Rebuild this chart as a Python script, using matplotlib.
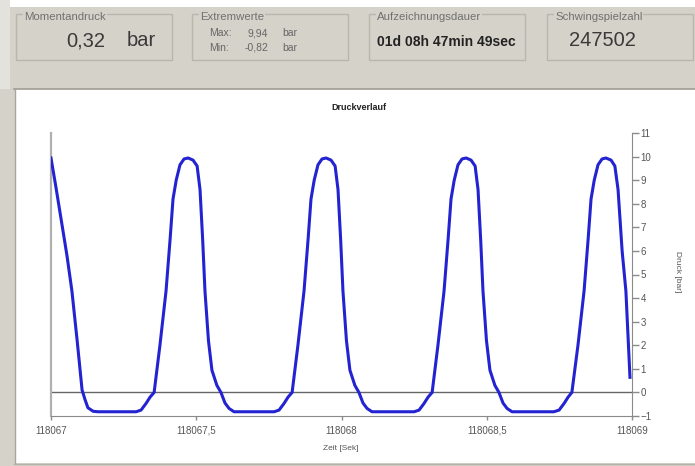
import matplotlib
matplotlib.use("Agg")
import matplotlib.pyplot as plt
from matplotlib.patches import Rectangle
from matplotlib.lines import Line2D

plt.rcParams["font.family"] = ["Liberation Sans", "DejaVu Sans"]

W, H = 695, 466

# ── data ─────────────────────────────────────────────────────────────────────
t_offset = [  # seconds after 118067
    0.000, 0.017, 0.038, 0.055, 0.072, 0.090, 0.107, 0.117, 0.127, 0.145, 0.162,
    0.293, 0.310, 0.327, 0.341, 0.355, 0.375, 0.396, 0.410, 0.420, 0.431, 0.444, 0.458,
    0.472, 0.489, 0.503, 0.513, 0.522, 0.530, 0.542, 0.554, 0.571, 0.585, 0.599, 0.613, 0.630,
    0.768, 0.785, 0.802, 0.816, 0.830, 0.850, 0.871, 0.885, 0.895, 0.906, 0.919, 0.933,
    0.947, 0.964, 0.978, 0.988, 0.997, 1.005, 1.017, 1.029, 1.046, 1.060, 1.074, 1.088, 1.105,
    1.250, 1.267, 1.284, 1.298, 1.312, 1.332, 1.353, 1.367, 1.377, 1.388, 1.401, 1.415,
    1.429, 1.446, 1.460, 1.470, 1.479, 1.487, 1.499, 1.511, 1.528, 1.542, 1.556, 1.570, 1.587,
    1.731, 1.749, 1.766, 1.780, 1.793, 1.814, 1.835, 1.849, 1.859, 1.870, 1.883, 1.897,
    1.910, 1.928, 1.941, 1.952, 1.966, 1.979, 1.993,
]
p_bar = [
    9.94, 8.7, 7.1, 5.8, 4.3, 2.2, 0.1, -0.3, -0.65, -0.8, -0.82,
    -0.82, -0.75, -0.47, -0.2, 0.0, 2.0, 4.3, 6.5, 8.2, 9.0, 9.65, 9.9,
    9.94, 9.85, 9.6, 8.6, 6.5, 4.3, 2.2, 0.94, 0.3, 0.0, -0.45, -0.68, -0.82,
    -0.82, -0.75, -0.47, -0.2, 0.0, 2.0, 4.3, 6.5, 8.2, 9.0, 9.65, 9.9,
    9.94, 9.85, 9.6, 8.6, 6.5, 4.3, 2.2, 0.94, 0.3, 0.0, -0.45, -0.68, -0.82,
    -0.82, -0.75, -0.47, -0.2, 0.0, 2.0, 4.3, 6.5, 8.2, 9.0, 9.65, 9.9,
    9.94, 9.85, 9.6, 8.6, 6.5, 4.3, 2.2, 0.94, 0.3, 0.0, -0.45, -0.68, -0.82,
    -0.82, -0.75, -0.47, -0.2, 0.0, 2.0, 4.3, 6.5, 8.2, 9.0, 9.65, 9.9,
    9.94, 9.85, 9.6, 8.6, 6.0, 4.3, 0.64,
]
T0 = 118067
t_sec = [T0 + v for v in t_offset]

x_ticks = [118067, 118067.5, 118068, 118068.5, 118069]
x_labels = ["118067", "118067,5", "118068", "118068,5", "118069"]
y_ticks = list(range(-1, 12))

moment = "0,32"
ext_max, ext_min = "9,94", "-0,82"
duration = "01d 08h 47min 49sec"
cycles = "247502"

GREY = "#d5d2ca"
BORDER = "#b9b6ae"
LABEL = "#666666"


def fx(px):
    return px / W


def fy(py):
    return 1 - py / H


def rect(x0, y0, x1, y1, **kw):
    fig.add_artist(Rectangle((fx(x0), fy(y1)), fx(x1) - fx(x0), fy(y0) - fy(y1),
                             transform=fig.transFigure, zorder=0, **kw))


def hline(x0, x1, y, **kw):
    fig.add_artist(Line2D([fx(x0), fx(x1)], [fy(y), fy(y)],
                          transform=fig.transFigure, zorder=0.5, **kw))


fig = plt.figure(figsize=(W / 100, H / 100), dpi=100, facecolor=GREY)

# ── window chrome ────────────────────────────────────────────────────────────
rect(0, 0, W, 7, facecolor="white", edgecolor="none")
rect(0, 0, 10, 89, facecolor="#e4e2dd", edgecolor="none")
rect(15, 89, W, 463, facecolor="white", edgecolor="none")
hline(14, W, 88.5, color="#9f9c95", lw=1.2)
fig.add_artist(Line2D([fx(14.5), fx(14.5)], [fy(89), fy(463)],
                      transform=fig.transFigure, color="#a9a69f", lw=1, zorder=0.5))
hline(14, W, 463.5, color="#b5b2ab", lw=1)

# ── group boxes ──────────────────────────────────────────────────────────────
boxes = [
    (16, 172, "Momentandruck"),
    (192, 348, "Extremwerte"),
    (369, 525, "Aufzeichnungsdauer"),
    (547, 693, "Schwingspielzahl"),
]
for x0, x1, title in boxes:
    rect(x0, 14, x1, 60, facecolor="none", edgecolor=BORDER, lw=1)
    fig.text(fx(x0 + 8), fy(16.5), title, fontsize=8.2, color="#707070",
             ha="left", va="center",
             bbox=dict(facecolor=GREY, edgecolor="none", pad=0.6))

fig.text(fx(105), fy(41), moment, fontsize=14.5, color="#3a3a3a",
         ha="right", va="center")
fig.text(fx(127), fy(41), "bar", fontsize=14.5, color="#3a3a3a",
         ha="left", va="center")

fig.text(fx(209), fy(33), "Max:", fontsize=7.5, color=LABEL, ha="left", va="center")
fig.text(fx(209), fy(48), "Min:", fontsize=7.5, color=LABEL, ha="left", va="center")
fig.text(fx(268), fy(33), ext_max, fontsize=7.5, color=LABEL, ha="right", va="center")
fig.text(fx(268), fy(48), ext_min, fontsize=7.5, color=LABEL, ha="right", va="center")
fig.text(fx(282), fy(33), "bar", fontsize=7.5, color=LABEL, ha="left", va="center")
fig.text(fx(282), fy(48), "bar", fontsize=7.5, color=LABEL, ha="left", va="center")

fig.text(fx(377), fy(42), duration, fontsize=10, fontweight="bold",
         color="#222222", ha="left", va="center")
fig.text(fx(569), fy(40), cycles, fontsize=14.5, color="#3a3a3a",
         ha="left", va="center")

# ── pressure chart ───────────────────────────────────────────────────────────
ax = fig.add_axes([fx(51), fy(416), fx(632) - fx(51), fy(133) - fy(416)])
ax.set_zorder(5)
ax.set_facecolor("none")
ax.plot(t_sec, p_bar, color="#2323d2", lw=2.2, solid_joinstyle="round",
        zorder=3)
ax.axhline(0, color="#666666", lw=1, zorder=2)

ax.set_xlim(118067, 118069)
ax.set_ylim(-1, 11)
ax.set_xticks(x_ticks)
ax.set_xticklabels(x_labels)
ax.set_yticks(y_ticks)
ax.yaxis.tick_right()

ax.spines["top"].set_visible(False)
ax.spines["left"].set_color("#b0b0b0")
ax.spines["left"].set_linewidth(1.6)
ax.spines["bottom"].set_color("#8a8a8a")
ax.spines["right"].set_color("#8a8a8a")
ax.tick_params(axis="x", length=3, width=1, color="#8a8a8a",
               labelsize=7, labelcolor="#555555", pad=4)
ax.tick_params(axis="y", length=5, width=1, color="#8a8a8a",
               labelsize=7, labelcolor="#555555", pad=1)

fig.text(fx(359), fy(108), "Druckverlauf", fontsize=6.5, fontweight="bold",
         color="#222222", ha="center", va="center")
fig.text(fx(341), fy(448), "Zeit [Sek]", fontsize=6, color="#555555",
         ha="center", va="center")
fig.text(fx(678), fy(272), "Druck [bar]", fontsize=6, color="#555555",
         ha="center", va="center", rotation=270)

fig.savefig("out.png", dpi=100, facecolor=fig.get_facecolor())
